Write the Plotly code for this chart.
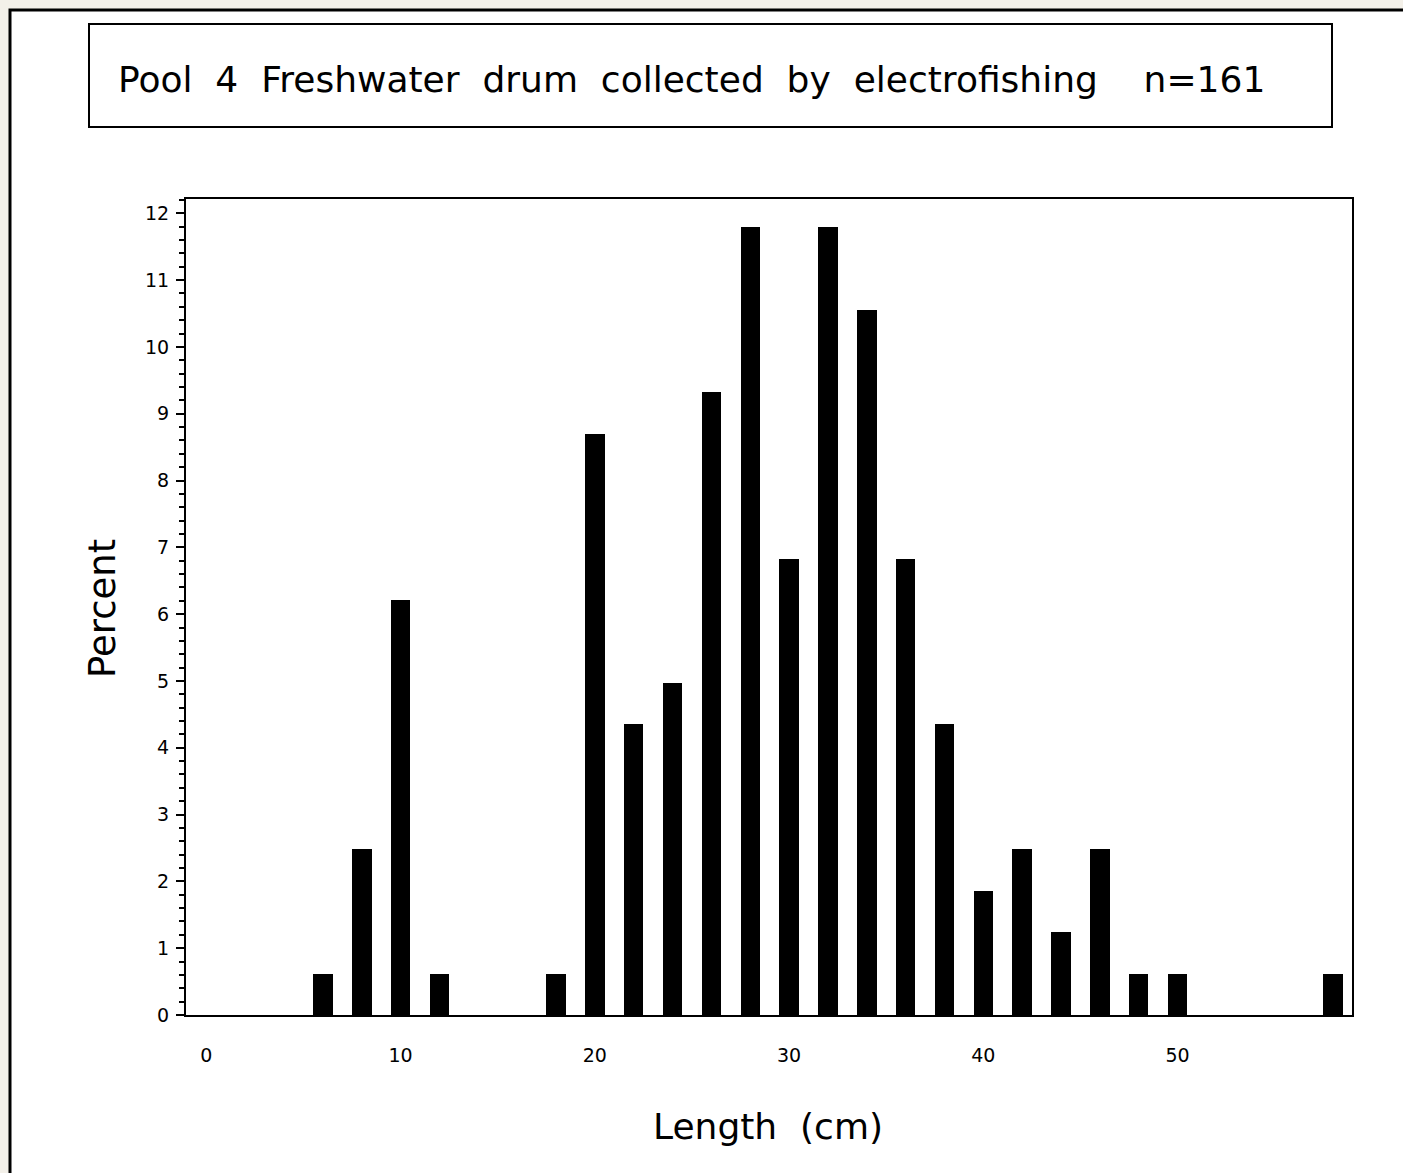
import plotly.graph_objects as go

# Data
lengths = [6, 8, 10, 12, 18, 20, 22, 24, 26, 28, 30, 32, 34, 36, 38, 40, 42, 44, 46, 48, 50, 58]
percents = [0.62, 2.48, 6.21, 0.62, 0.62, 8.70, 4.35, 4.97, 9.32, 11.80, 6.83, 11.80,
            10.56, 6.83, 4.35, 1.86, 2.48, 1.24, 2.48, 0.62, 0.62, 0.62]
x_ticks = [0, 10, 20, 30, 40, 50]
y_ticks = list(range(0, 13))

title_text = "Pool\u00a0\u00a04\u00a0\u00a0Freshwater\u00a0\u00a0drum\u00a0\u00a0collected\u00a0\u00a0by\u00a0\u00a0electrofishing\u00a0\u00a0\u00a0\u00a0n=161"

W, H = 1403, 1173
L = 186
T = 199
R = W - 1352
B = H - 1015
PW = W - L - R
PH = H - T - B

def px(xp):
    return (xp - L) / PW

def py(yp):
    return (H - B - yp) / PH

FONT = "DejaVu Sans, Liberation Sans, Arial, sans-serif"
BG = "#f3f0e9"

fig = go.Figure()
fig.add_trace(go.Bar(
    x=lengths, y=percents, width=1.0,
    marker=dict(color="black", line=dict(width=0)),
    showlegend=False,
))

shapes = [
    dict(type="rect", xref="paper", yref="paper", x0=px(10), x1=px(1430), y0=py(1200), y1=py(10),
         line=dict(color="black", width=3), fillcolor="white", layer="below"),
    dict(type="rect", xref="paper", yref="paper", x0=px(89), x1=px(1332), y0=py(127), y1=py(24),
         line=dict(color="black", width=2), fillcolor="white", layer="below"),
]

annotations = [
    dict(text=title_text, xref="paper", yref="paper", x=px(116), y=py(79),
         xanchor="left", yanchor="middle", showarrow=False,
         font=dict(family=FONT, size=36, color="black")),
    dict(text="Length\u00a0\u00a0(cm)", xref="paper", yref="paper", x=px(768), y=py(1126),
         xanchor="center", yanchor="middle", showarrow=False,
         font=dict(family=FONT, size=36, color="black")),
    dict(text="Percent", xref="paper", yref="paper", x=px(102), y=py(608),
         xanchor="center", yanchor="middle", showarrow=False, textangle=-90,
         font=dict(family=FONT, size=37, color="black")),
]

fig.update_layout(
    width=W, height=H,
    margin=dict(l=L, r=R, t=T, b=B, pad=0),
    paper_bgcolor=BG,
    plot_bgcolor="white",
    shapes=shapes,
    annotations=annotations,
    bargap=0,
    xaxis=dict(
        range=[-1.05, 58.98], tickvals=x_ticks, ticktext=[str(v) for v in x_ticks],
        ticks="", showgrid=False, zeroline=False,
        showline=True, mirror=True, linecolor="black", linewidth=2,
        ticklabelstandoff=22,
        tickfont=dict(family=FONT, size=19, color="black"),
    ),
    yaxis=dict(
        range=[0, 12.214], tickvals=y_ticks, ticktext=[str(v) for v in y_ticks],
        ticks="outside", ticklen=8, tickwidth=2, tickcolor="black",
        minor=dict(dtick=0.2, ticks="outside", ticklen=5, tickwidth=2, tickcolor="black"),
        showgrid=False, zeroline=False,
        showline=True, mirror=True, linecolor="black", linewidth=2,
        ticklabelstandoff=3,
        tickfont=dict(family=FONT, size=19, color="black"),
    ),
)

fig.write_html(
    "out.html",
    config={"displayModeBar": False},
    post_script="document.body.style.margin='0';document.body.style.overflow='hidden';"
                "document.body.style.backgroundColor='%s';" % BG,
)
